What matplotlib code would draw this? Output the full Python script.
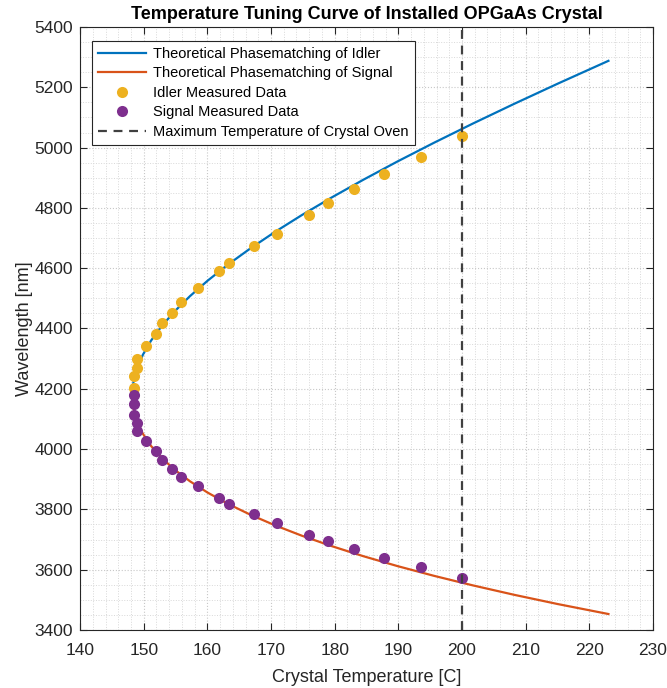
import numpy as np
import matplotlib
matplotlib.use('Agg')
import matplotlib.pyplot as plt
from matplotlib.ticker import MultipleLocator

plt.rcParams['font.family'] = ['Liberation Sans', 'DejaVu Sans']

# Theoretical phasematching curves (temperature, idler / signal wavelength in nm)
theory_temp = [223.0, 215.05, 208.20, 201.72, 195.61, 189.87, 184.50, 179.50, 174.87,
               170.61, 166.72, 163.20, 160.05, 157.27, 154.87, 152.83, 151.16, 149.87,
               148.94, 148.39, 148.2]
theory_idler = [5287.7, 5212.1, 5145.1, 5079.8, 5016.1, 4954.0, 4893.3, 4834.2, 4776.5,
                4720.1, 4665.0, 4611.3, 4558.7, 4507.3, 4457.1, 4408.0, 4360.0, 4312.9,
                4267.0, 4221.9, 4177.8]
theory_signal = [3453.0, 3486.0, 3516.7, 3547.9, 3579.6, 3611.9, 3644.8, 3678.4, 3712.5,
                 3747.3, 3782.7, 3818.8, 3855.6, 3893.2, 3931.4, 3970.5, 4010.3, 4050.9,
                 4092.3, 4134.6, 4177.8]

# Measured data
idler_temp = [148.4, 148.4, 148.9, 148.9, 150.4, 151.9, 152.9, 154.4, 155.9, 158.6,
              161.9, 163.4, 167.4, 170.9, 176.0, 179.0, 183.0, 187.8, 193.6, 200.0]
idler_wl = [4204, 4243, 4268, 4300, 4342, 4381, 4417, 4450, 4487, 4535,
            4591, 4617, 4675, 4713, 4776, 4817, 4862, 4912, 4970, 5038]
signal_temp = [148.4, 148.4, 148.4, 148.9, 148.9, 150.4, 151.9, 152.9, 154.4, 155.9, 158.6,
               161.9, 163.4, 167.4, 170.9, 176.0, 179.0, 183.0, 187.8, 193.6, 200.0]
signal_wl = [4178, 4150, 4113, 4088, 4059, 4028, 3993, 3963, 3935, 3907, 3878,
             3838, 3818, 3784, 3755, 3716, 3694, 3669, 3638, 3610, 3574]

max_oven_temp = 200

fig = plt.figure(figsize=(6.67, 6.88), dpi=100)
ax = fig.add_axes([0.120, 0.0843, 0.859, 0.8765])

ax.plot(theory_temp, theory_idler, color='#0072BD', lw=1.6,
        label='Theoretical Phasematching of Idler')
ax.plot(theory_temp, theory_signal, color='#D95319', lw=1.6,
        label='Theoretical Phasematching of Signal')
ax.plot(idler_temp, idler_wl, 'o', color='#EDB120', ms=8, mec='none',
        label='Idler Measured Data')
ax.plot(signal_temp, signal_wl, 'o', color='#7E2F8E', ms=8, mec='none',
        label='Signal Measured Data')
ax.axvline(max_oven_temp, color='#404040', lw=1.6, ls=(0, (4, 3)),
           label='Maximum Temperature of Crystal Oven')

ax.set_xlim(140, 230)
ax.set_ylim(3400, 5400)
ax.xaxis.set_major_locator(MultipleLocator(10))
ax.xaxis.set_minor_locator(MultipleLocator(2))
ax.yaxis.set_major_locator(MultipleLocator(200))
ax.yaxis.set_minor_locator(MultipleLocator(50))

# MATLAB-like grid and box
ax.grid(which='major', color='#c8c8c8', ls=':', lw=0.8)
ax.grid(which='minor', color='#d8d8d8', ls=':', lw=0.7)
ax.set_axisbelow(True)
ax.tick_params(which='major', direction='in', top=True, right=True, length=5,
               color='#262626', labelsize=12.5, labelcolor='#262626')
ax.tick_params(axis='x', which='major', pad=9)
ax.tick_params(axis='y', which='major', pad=5)
ax.tick_params(which='minor', length=0)
for s in ax.spines.values():
    s.set_color('#262626')
    s.set_linewidth(0.8)

ax.set_xlabel('Crystal Temperature [C]', fontsize=13, color='#262626', labelpad=8)
ax.set_ylabel('Wavelength [nm]', fontsize=13, color='#262626', labelpad=1)
ax.set_title('Temperature Tuning Curve of Installed OPGaAs Crystal',
             fontsize=13, fontweight='bold', pad=6)

leg = ax.legend(loc='upper left', bbox_to_anchor=(0.021, 0.977), borderaxespad=0,
                fontsize=10.5, fancybox=False, framealpha=1, edgecolor='#262626',
                handlelength=3.3, handletextpad=0.5, labelspacing=0.38, borderpad=0.4)
leg.get_frame().set_linewidth(0.8)

fig.savefig('out.png', dpi=100)
